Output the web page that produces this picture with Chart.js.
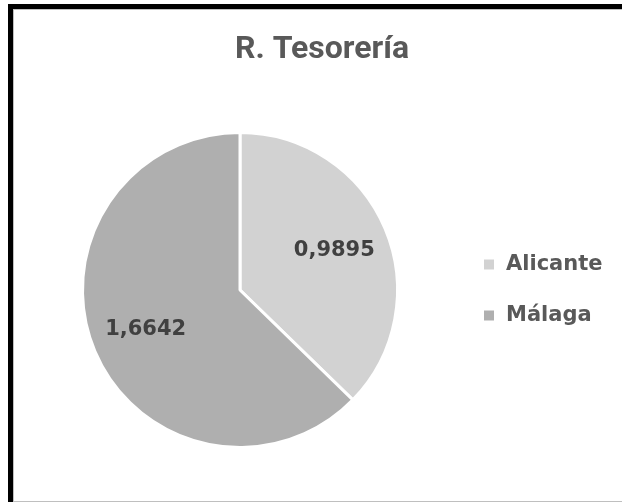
<!DOCTYPE html>
<html>
<head>
<meta charset="utf-8">
<script src="https://cdn.jsdelivr.net/npm/chart.js@4.4.1/dist/chart.umd.min.js"></script>
<style>
  body { margin: 0; background: #fff; overflow: hidden; width: 622px; height: 502px; }
  #frame { position: absolute; left: 8px; top: 4px; width: 700px; height: 520px; border-top: 5px solid #000; border-left: 5px solid #000; box-sizing: border-box; }
  #box { position: absolute; left: 13px; top: 9px; width: 700px; height: 493px; border: 1px solid #bfbfbf; border-right: none; box-sizing: border-box; background: #fff; }
  #wrap { position: absolute; left: 14px; top: 10px; width: 608px; height: 491px; }
</style>
</head>
<body>
<div id="frame"></div>
<div id="box"></div>
<div id="wrap"><canvas id="myChart"></canvas></div>
<script>
const chartTitle = 'R. Tesorería';
const categories = ['Alicante', 'Málaga'];
const values = [0.9895, 1.6642];
const sliceColors = ['#d2d2d2', '#afafaf'];

// value labels inside the slices (excel style, comma decimal)
const sliceLabels = {
  id: 'sliceLabels',
  afterDatasetsDraw(chart) {
    const ctx = chart.ctx;
    const meta = chart.getDatasetMeta(0);
    ctx.save();
    ctx.font = 'bold 21px "DejaVu Sans"';
    ctx.fillStyle = '#404040';
    ctx.textAlign = 'center';
    ctx.textBaseline = 'middle';
    meta.data.forEach((arc, i) => {
      const p = arc.getProps(['x', 'y', 'startAngle', 'endAngle', 'outerRadius'], true);
      const mid = (p.startAngle + p.endAngle) / 2;
      const r = p.outerRadius * 0.65;
      const txt = values[i].toFixed(4).replace('.', ',');
      ctx.fillText(txt, p.x + Math.cos(mid) * r, p.y + Math.sin(mid) * r);
    });
    ctx.restore();
  }
};

// a little more room on the right of the legend so the title centres like excel
const legendRoom = {
  id: 'legendRoom',
  beforeInit(chart) {
    const fit = chart.legend.fit;
    chart.legend.fit = function () {
      fit.call(this);
      this.width += 4;
    };
  }
};

const ctx = document.getElementById('myChart').getContext('2d');
const myChart = new Chart(ctx, {
  type: 'pie',
  data: {
    labels: categories,
    datasets: [{
      data: values,
      backgroundColor: sliceColors,
      borderColor: '#ffffff',
      borderWidth: 3
    }]
  },
  options: {
    responsive: true,
    maintainAspectRatio: false,
    animation: false,
    layout: {
      padding: { left: 13.5, right: 5.5, top: 0, bottom: 52 }
    },
    plugins: {
      title: {
        display: true,
        text: chartTitle,
        color: '#595959',
        font: { family: 'Roboto', size: 32, weight: 'bold', lineHeight: 1.2 },
        padding: { top: 21, bottom: 61.6 }
      },
      legend: {
        position: 'right',
        fullSize: false,
        labels: {
          color: '#595959',
          font: { family: 'DejaVu Sans', size: 21, weight: 'bold' },
          boxWidth: 13,
          boxHeight: 13,
          padding: 30
        }
      },
      tooltip: { enabled: false }
    }
  },
  plugins: [sliceLabels, legendRoom]
});
</script>
</body>
</html>
